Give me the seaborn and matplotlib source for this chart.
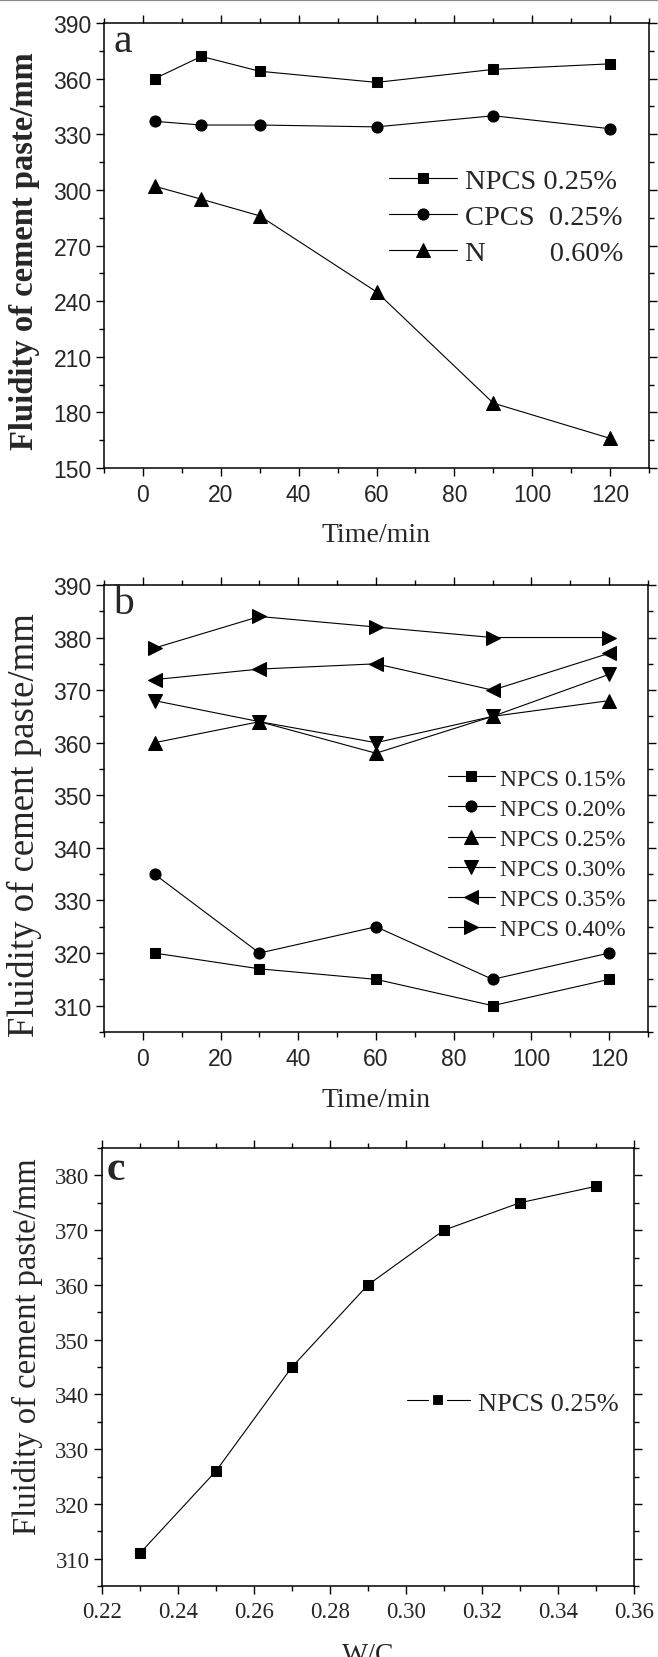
import matplotlib
matplotlib.use('Agg')
import matplotlib.pyplot as plt
from matplotlib.lines import Line2D
from matplotlib.ticker import MultipleLocator, FormatStrFormatter
import seaborn as sns

# ── Datos: panel a (fluidez vs tiempo, tres aditivos) ──
time_a = [3, 15, 30, 60, 90, 120]
npcs_a = [360, 372, 364, 358, 365, 368]
cpcs_a = [337, 335, 335, 334, 340, 333]
n_a = [302, 295, 286, 245, 185, 166]
labels_a = ['NPCS 0.25%', 'CPCS  0.25%', 'N         0.60%']

# ── Datos: panel b (dosis de NPCS) ──
time_b = [3, 30, 60, 90, 120]
npcs_015 = [320, 317, 315, 310, 315]
npcs_020 = [335, 320, 325, 315, 320]
npcs_025 = [360, 364, 358, 365, 368]
npcs_030 = [368, 364, 360, 365, 373]
npcs_035 = [372, 374, 375, 370, 377]
npcs_040 = [378, 384, 382, 380, 380]
labels_b = ['NPCS 0.15%', 'NPCS 0.20%', 'NPCS 0.25%',
            'NPCS 0.30%', 'NPCS 0.35%', 'NPCS 0.40%']

# ── Datos: panel c (relación agua/cemento) ──
wc_c = [0.23, 0.25, 0.27, 0.29, 0.31, 0.33, 0.35]
flow_c = [311, 326, 345, 360, 370, 375, 378]
label_c = 'NPCS 0.25%'

sns.set_style('ticks')
plt.rcParams['font.family'] = ['Liberation Serif', 'DejaVu Serif']
plt.rcParams['axes.linewidth'] = 1.1

SERIF = 'Liberation Serif'
SANS = 'Liberation Sans'
LW = 0.8
ylab = 'Fluidity of cement paste/mm'


def style_axis(ax, tick_font, tick_size):
    ax.tick_params(which='both', direction='out', top=True, right=True,
                   labeltop=False, labelright=False, width=1.0, color='black')
    ax.tick_params(which='major', length=6)
    ax.tick_params(which='minor', length=3.5)
    ax.tick_params(axis='x', pad=5)
    ax.tick_params(axis='y', pad=3)
    for lab in ax.get_xticklabels() + ax.get_yticklabels():
        lab.set_fontfamily(tick_font)
        lab.set_fontsize(tick_size)
    for sp in ax.spines.values():
        sp.set_visible(True)
        sp.set_color('black')


fig = plt.figure(figsize=(6.58, 16.58), dpi=100)
fig.add_artist(Line2D([0, 1], [0.9993, 0.9993], color='#8a8a8a', lw=1.6,
                      transform=fig.transFigure))

# ── Panel a ──
ax = fig.add_axes([0.1581, 0.7171, 0.8283, 0.2684])
for y, mk, ms, lab in zip([npcs_a, cpcs_a, n_a], ['s', 'o', '^'], [7.5, 8, 9.5], labels_a):
    sns.lineplot(x=time_a, y=y, ax=ax, color='black', linewidth=LW, marker=mk,
                 markersize=ms, markeredgecolor='black', label=lab)
ax.set_xlim(-10, 130)
ax.set_ylim(150, 390)
ax.xaxis.set_major_locator(MultipleLocator(20))
ax.xaxis.set_minor_locator(MultipleLocator(10))
ax.yaxis.set_major_locator(MultipleLocator(30))
ax.yaxis.set_minor_locator(MultipleLocator(15))
ax.set_xlabel('Time/min', fontfamily=SERIF, fontsize=20, labelpad=11)
ax.set_ylabel(ylab, fontfamily=SERIF, fontsize=23.5, fontweight='bold')
ax.yaxis.set_label_coords(-0.117, 0.49)
style_axis(ax, SANS, 16.5)
ax.legend(loc='center left', bbox_to_anchor=(0.522, 0.564), frameon=False,
          prop={'family': SERIF, 'size': 20.5}, handlelength=2.4,
          handletextpad=0.3, labelspacing=0.34, borderpad=0, borderaxespad=0)
ax.text(0.017, 0.937, 'a', transform=ax.transAxes, fontfamily=SERIF,
        fontsize=30, va='baseline', ha='left')

# ── Panel b ──
ax = fig.add_axes([0.1581, 0.3770, 0.8267, 0.2696])
series_b = [npcs_015, npcs_020, npcs_025, npcs_030, npcs_035, npcs_040]
markers_b = ['s', 'o', '^', 'v', '<', '>']
sizes_b = [7.5, 8, 9.5, 9.5, 9.5, 9.5]
for y, mk, ms, lab in zip(series_b, markers_b, sizes_b, labels_b):
    sns.lineplot(x=time_b, y=y, ax=ax, color='black', linewidth=LW, marker=mk,
                 markersize=ms, markeredgecolor='black', label=lab)
ax.set_xlim(-10, 130)
ax.set_ylim(305, 390)
ax.xaxis.set_major_locator(MultipleLocator(20))
ax.xaxis.set_minor_locator(MultipleLocator(10))
ax.yaxis.set_major_locator(MultipleLocator(10))
ax.yaxis.set_minor_locator(MultipleLocator(5))
ax.set_xlabel('Time/min', fontfamily=SERIF, fontsize=20, labelpad=12)
ax.set_ylabel(ylab, fontfamily=SERIF, fontsize=26.5)
ax.yaxis.set_label_coords(-0.114, 0.465)
style_axis(ax, SANS, 16.5)
ax.legend(loc='center left', bbox_to_anchor=(0.632, 0.398), frameon=False,
          prop={'family': SERIF, 'size': 17}, handlelength=2.0,
          handletextpad=0.2, labelspacing=0.36, borderpad=0, borderaxespad=0)
ax.text(0.017, 0.937, 'b', transform=ax.transAxes, fontfamily=SERIF,
        fontsize=30, va='baseline', ha='left')

# ── Panel c ──
ax = fig.add_axes([0.1550, 0.0428, 0.8085, 0.2642])
sns.lineplot(x=wc_c, y=flow_c, ax=ax, color='black', linewidth=LW, marker='s',
             markersize=7.5, markeredgecolor='black', legend=False)
ax.set_xlim(0.22, 0.36)
ax.set_ylim(305, 385)
ax.xaxis.set_major_locator(MultipleLocator(0.02))
ax.xaxis.set_minor_locator(MultipleLocator(0.01))
ax.xaxis.set_major_formatter(FormatStrFormatter('%.2f'))
ax.yaxis.set_major_locator(MultipleLocator(10))
ax.yaxis.set_minor_locator(MultipleLocator(5))
ax.set_xlabel('W/C', fontfamily=SERIF, fontsize=20, labelpad=14)
ax.set_ylabel(ylab, fontfamily=SERIF, fontsize=23.5)
ax.yaxis.set_label_coords(-0.11, 0.548)
style_axis(ax, SERIF, 16.5)
handle_c = Line2D([], [], color='black', lw=LW, marker='s', markersize=10.5,
                  markerfacecolor='black', markeredgecolor='white',
                  markeredgewidth=3)
ax.legend([handle_c], [label_c], loc='center left', bbox_to_anchor=(0.573, 0.418),
          frameon=False, prop={'family': SERIF, 'size': 19}, handlelength=2.4,
          handletextpad=0.3, borderpad=0, borderaxespad=0)
ax.text(0.008, 0.929, 'c', transform=ax.transAxes, fontfamily=SERIF,
        fontsize=30, fontweight='bold', va='baseline', ha='left')

fig.savefig('out.png', dpi=100)
